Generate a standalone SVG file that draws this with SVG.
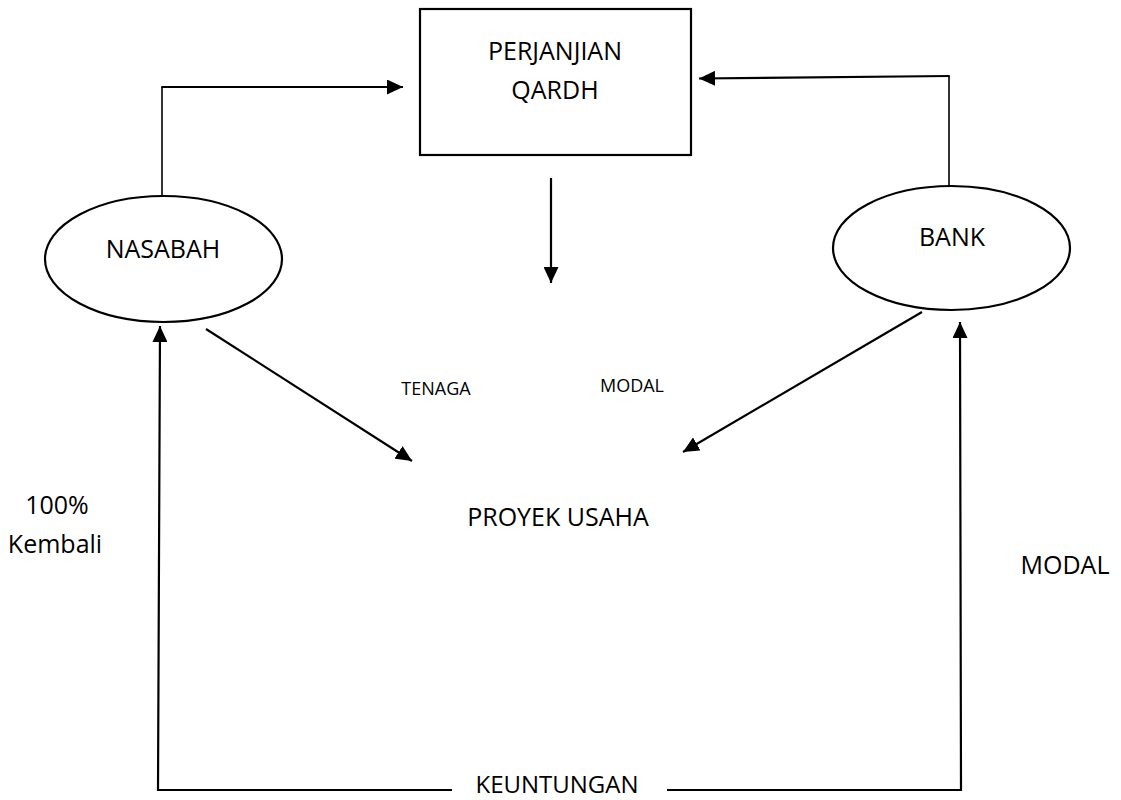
<svg xmlns="http://www.w3.org/2000/svg" width="1121" height="800" viewBox="0 0 1121 800">
<style>
.shape{fill:#fff;stroke:#000;stroke-width:2.2}
.ln{fill:none;stroke:#000;stroke-width:2.2}
.thin{fill:none;stroke:#000;stroke-width:1.6}
text{font-family:"Open Sans","Liberation Sans",sans-serif;fill:#000}
.big{font-size:25px}
.small{font-size:18px}
</style>
<defs>
<marker id="ah" markerUnits="userSpaceOnUse" markerWidth="16" markerHeight="15" refX="16" refY="7.5" orient="auto">
<path d="M0,0 L16,7.5 L0,15 z" fill="#000"/>
</marker>
</defs>
<rect width="1121" height="800" fill="#fff"/>
<g id="connectors">
<polyline class="thin" points="162,196 162,87"/>
<polyline class="ln" points="161.3,87 403,87" marker-end="url(#ah)"/>
<polyline class="thin" points="949,186 949,76"/>
<polyline class="ln" points="949.7,76 699,78.5" marker-end="url(#ah)"/>
<line class="ln" x1="551" y1="178" x2="551" y2="283" marker-end="url(#ah)"/>
<line class="ln" x1="206" y1="329" x2="412" y2="461" marker-end="url(#ah)"/>
<line class="ln" x1="922" y1="312" x2="683" y2="452" marker-end="url(#ah)"/>
<polyline class="ln" points="452,790 158,790 160,326" marker-end="url(#ah)"/>
<polyline class="ln" points="667,790 961,790 960,322" marker-end="url(#ah)"/>
</g>
<g id="perjanjian">
<rect class="shape" x="420" y="9" width="271" height="146"/>
<text class="big" x="555" y="60" text-anchor="middle">PERJANJIAN</text>
<text class="big" x="555" y="99" text-anchor="middle">QARDH</text>
</g>
<g id="nasabah">
<ellipse class="shape" cx="163.5" cy="259" rx="118.5" ry="63"/>
<text class="big" x="163" y="258" text-anchor="middle">NASABAH</text>
</g>
<g id="bank">
<ellipse class="shape" cx="951.5" cy="248" rx="118.5" ry="62"/>
<text class="big" x="952" y="246" text-anchor="middle">BANK</text>
</g>
<g id="proyek">
<text class="big" x="558" y="526" text-anchor="middle">PROYEK USAHA</text>
</g>
<g id="labels">
<text class="small" x="436" y="395" text-anchor="middle">TENAGA</text>
<text class="small" x="632" y="392" text-anchor="middle">MODAL</text>
<text class="big" x="57" y="514" text-anchor="middle">100%</text>
<text class="big" x="55" y="553" text-anchor="middle">Kembali</text>
<text class="big" x="1065" y="574" text-anchor="middle">MODAL</text>
<text x="557" y="793" text-anchor="middle" font-size="24">KEUNTUNGAN</text>
</g>
</svg>
